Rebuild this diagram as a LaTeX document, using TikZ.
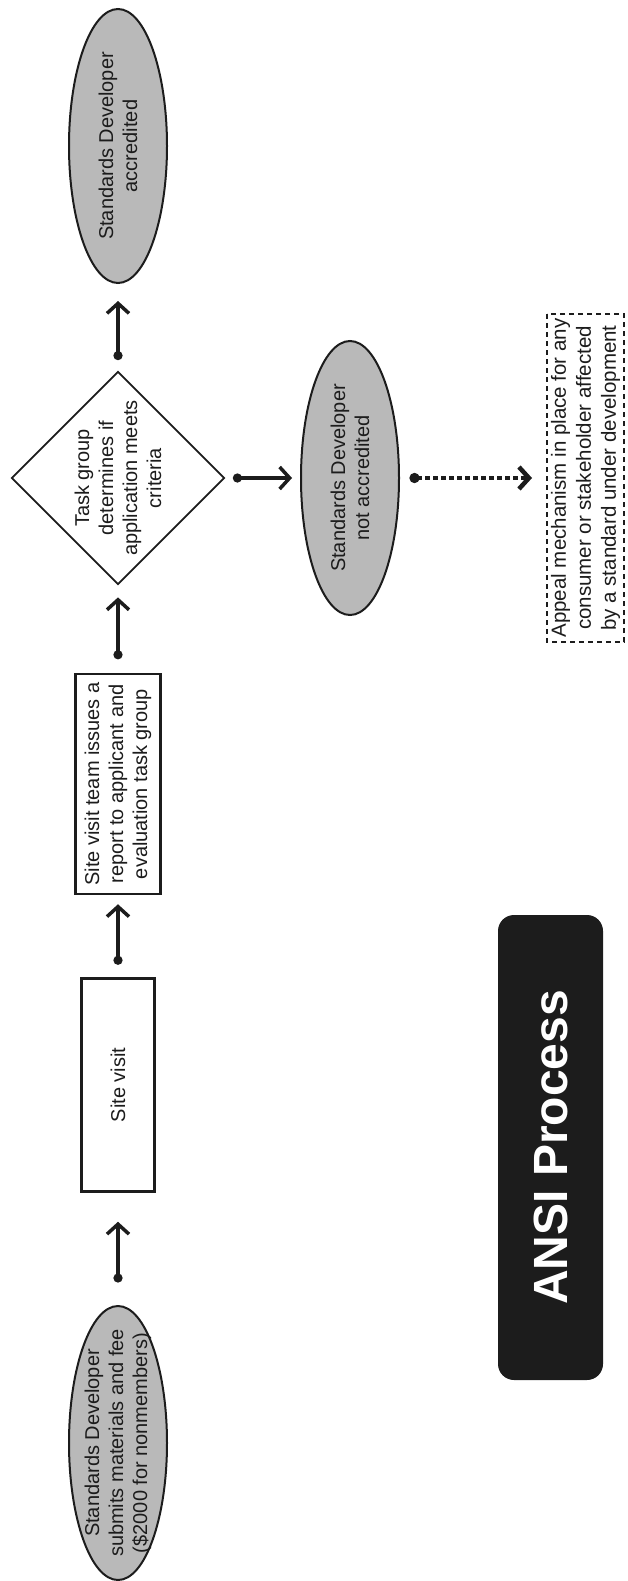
\documentclass[tikz,border=0pt]{standalone}
\usepackage{fontspec}
\setmainfont{Liberation Sans}
\usetikzlibrary{shapes.geometric,arrows.meta}
\definecolor{elfill}{RGB}{185,185,185}
\definecolor{ink}{RGB}{28,28,28}
\begin{document}
\begin{tikzpicture}[x=1pt,y=-1pt,
  txt/.style={font=\fontsize{20}{24}\selectfont, text=ink, align=center},
  ell/.style={ellipse, draw=ink, line width=2pt, fill=elfill, minimum width=274pt, minimum height=98pt, inner sep=0pt, rotate=90, txt},
  box/.style={rectangle, draw=ink, line width=2.5pt, fill=white, rotate=90, inner sep=2pt, txt},
  conn/.style={line width=3.5pt, draw=ink, {Circle[length=9pt]}-{Straight Barb[length=10pt,width=22pt]}},
  dotconn/.style={line width=4.5pt, draw=ink, dash pattern=on 4.5pt off 3.5pt, {Circle[length=10pt]}-{Straight Barb[length=10pt,width=22pt]}},
]
\useasboundingbox (0,0) rectangle (627,1581);

% nodes
\node[ell] (acc) at (118,146) {Standards Developer\\accredited};
\node[diamond, draw=ink, line width=1.8pt, fill=white, minimum width=213pt, minimum height=213pt, inner sep=0pt, aspect=1] (dia) at (118,478) {};
\node[txt, rotate=90] (diat) at (dia.center) {Task group\\determines if\\application meets\\criteria};
\node[box, minimum width=220pt, minimum height=85pt] (rep) at (118,784) {Site visit team issues a\\report to applicant and\\evaluation task group};
\node[box, minimum width=213pt, minimum height=73pt] (sv) at (118,1085) {Site visit};
\node[ell] (sub) at (118,1443) {};
\node[txt, rotate=90] (subt) at (sub.center) {Standards Developer\\submits materials and fee\\(\$2000 for nonmembers)};
\node[ell] (nacc) at (350,478) {Standards Developer\\not accredited};
\node[box, dashed, dash pattern=on 5pt off 4pt, line width=2pt, minimum width=328pt, minimum height=77pt, font=\fontsize{20.5}{25}\selectfont] (app) at (585.5,478) {Appeal mechanism in place for any\\consumer or stakeholder affected\\by a standard under development};
\node[rectangle, rounded corners=16pt, fill=ink, rotate=90, minimum width=465pt, minimum height=105pt, text=white, font=\bfseries\fontsize{48}{56}\selectfont] (ansi) at (550.5,1147.5) {ANSI Process};

% connectors
\draw[conn, shorten <=22.5pt, shorten >=29pt] (sub.east) -- (sv.west);
\draw[conn, shorten <=12.5pt, shorten >=9pt] (sv.east) -- (rep.west);
\draw[conn, shorten <=13.5pt, shorten >=12pt] (rep.east) -- (dia.south);
\draw[conn, shorten <=10.5pt, shorten >=17pt] (dia.north) -- (acc.west);
\draw[conn, shorten <=7.5pt, shorten >=8pt] (dia.east) -- (nacc.north);
\draw[dotconn, shorten <=9.5pt, shorten >=14pt] (nacc.south) -- (app.north);
\end{tikzpicture}
\end{document}
